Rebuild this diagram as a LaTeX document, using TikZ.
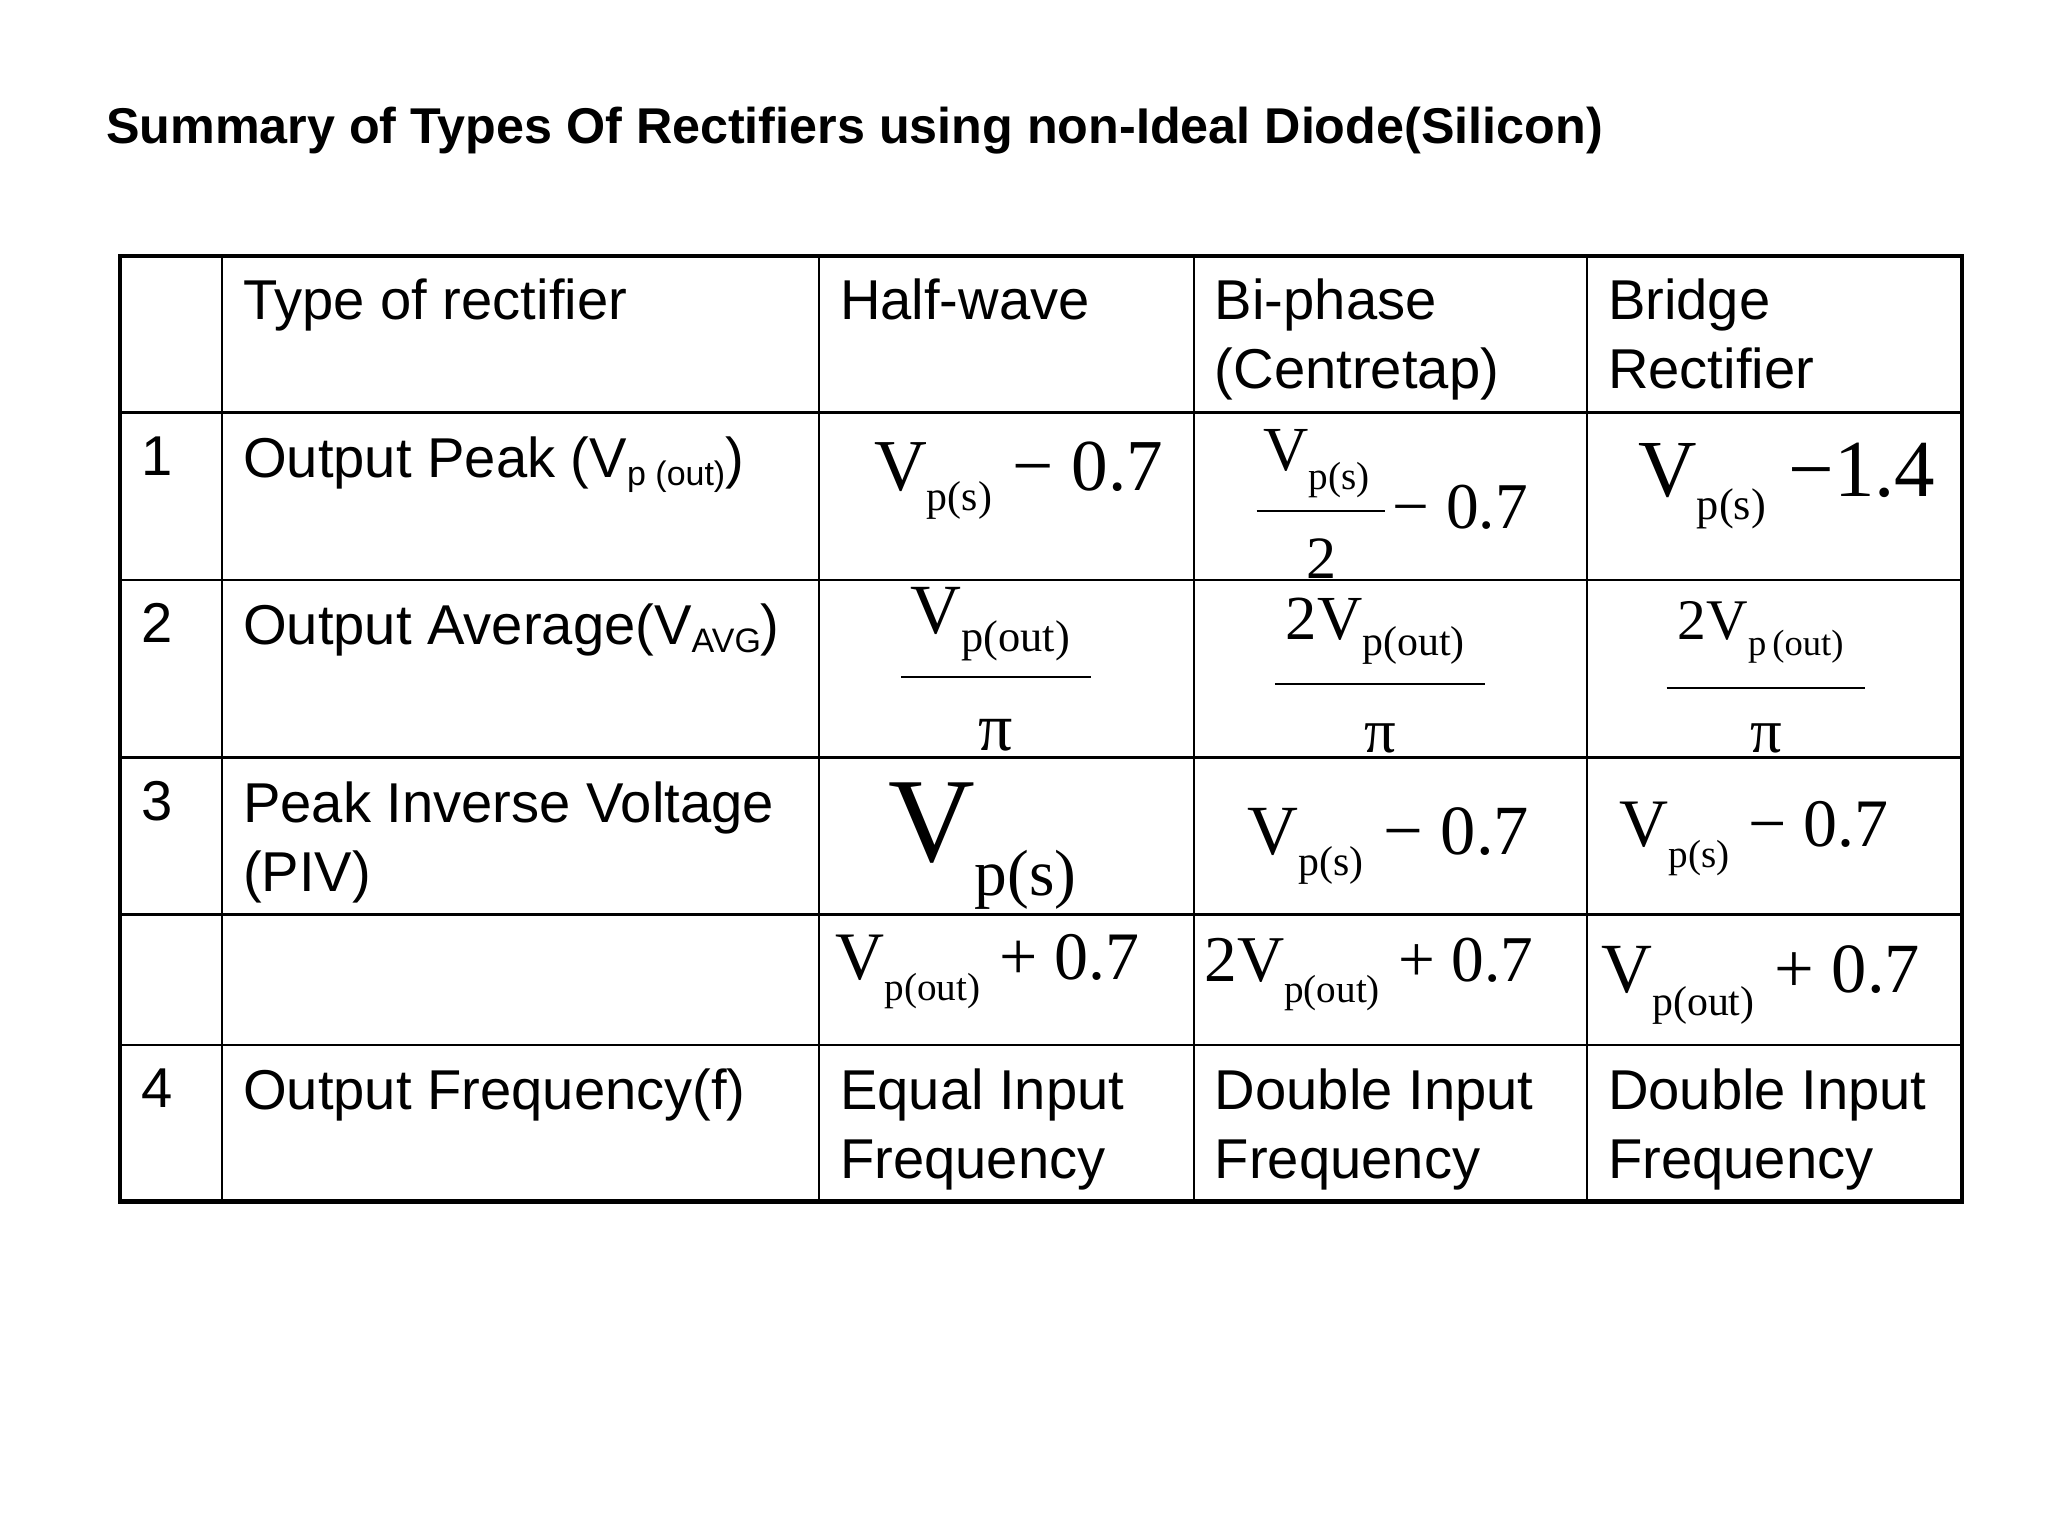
\documentclass[tikz,border=0pt]{standalone}
\usepackage{fontspec}
\setmainfont{Liberation Sans}
\newfontfamily\tm{Liberation Serif}
\newcommand{\vsub}[4]{{\fontsize{#1}{#1}\selectfont\tm V}\raisebox{-#3}{\fontsize{#2}{#2}\selectfont\tm #4}}
\newcommand{\tmt}[2]{{\fontsize{#1}{#1}\selectfont\tm #2}}
\begin{document}
\begin{tikzpicture}[x=1pt,y=-1pt,
  cell/.style={anchor=north west,inner sep=0pt,align=left,font=\fontsize{43}{53}\selectfont},
  num/.style={anchor=north west,inner sep=0pt,font=\fontsize{43}{53}\selectfont},
  frm/.style={inner sep=0pt},
  grid/.style={line width=2pt},
  outer/.style={line width=3.5pt}]
\useasboundingbox (0,0) rectangle (1568,1176);
\node[anchor=west,inner sep=0pt,font=\fontsize{38.5}{44}\selectfont\bfseries] (title) at (81,100) {Summary of Types Of Rectifiers using non-Ideal Diode(Silicon)};
% grid
\foreach \y in {316,444,580,700,800} \draw[grid] (92,\y) -- (1502,\y);
\foreach \x in {170,627,914,1215} \draw[grid] (\x,196) -- (\x,920);
\draw[outer] (92,196) rectangle (1502,920);
% header
\node[cell] (h1) at (186,213) {Type of rectifier};
\node[cell] (h2) at (643,213) {Half-wave};
\node[cell] (h3) at (930,213) {Bi-phase\\(Centretap)};
\node[cell] (h4) at (1231,213) {Bridge\\Rectifier};
% numbers
\node[num] (n1) at (108,334) {1};
\node[num] (n2) at (108,462) {2};
\node[num] (n3) at (108,598) {3};
\node[num] (n4) at (108,818) {4};
\node[cell] (r1) at (186,334) {Output Peak (V\raisebox{-6pt}{\fontsize{26}{26}\selectfont p (out)})};
\node[cell] (r2) at (186,462) {Output Average(V\raisebox{-6pt}{\fontsize{26}{26}\selectfont AVG})};
\node[cell] (r3) at (186,598) {Peak Inverse Voltage\\(PIV)};
\node[cell] (r4) at (186,818) {Output Frequency(f)};
\node[cell] (f1) at (643,818) {Equal Input\\Frequency};
\node[cell] (f2) at (930,818) {Double Input\\Frequency};
\node[cell] (f3) at (1231,818) {Double Input\\Frequency};
% row 1
\node[frm] (a1) at (780,368) {\vsub{56}{32}{16pt}{p(s)}\,\tmt{56}{ − 0.7}};
\node[frm] (b1n) at (1008,355) {\vsub{48}{30}{14pt}{p(s)}};
\draw[line width=1.5pt] (962,391) -- (1060,391);
\node[frm] (b1d) at (1012,428) {\tmt{46}{2}};
\node[frm] (b1m) at (1118,388) {\tmt{50}{− 0.7}};
\node[frm] (c1) at (1368,372) {\vsub{62}{34}{18pt}{p(s)}\,\tmt{62}{ −1.4}};
% row 2
\node[frm] (a2n) at (758,478) {\vsub{54}{34}{14pt}{p(out)}};
\draw[line width=1.5pt] (690,518) -- (835,518);
\node[frm] (a2d) at (762,563) {\tmt{52}{π}};
\node[frm] (b2n) at (1053,483) {\tmt{48}{2}\vsub{48}{32}{12pt}{p(out)}};
\draw[line width=1.5pt] (976,524) -- (1137,524);
\node[frm] (b2d) at (1057,565) {\tmt{48}{π}};
\node[frm] (c2n) at (1348,484) {\tmt{44}{2}\vsub{44}{28}{12pt}{p\,(out)}};
\draw[line width=1.5pt] (1276,527) -- (1428,527);
\node[frm] (c2d) at (1352,565) {\tmt{48}{π}};
% row 3
\node[frm] (a3) at (752,648) {\vsub{92}{50}{26pt}{p(s)}};
\node[frm] (b3) at (1063,648) {\vsub{54}{32}{16pt}{p(s)}\,\tmt{54}{ − 0.7}};
\node[frm] (c3) at (1343,642) {\vsub{52}{30}{16pt}{p(s)}\,\tmt{52}{ − 0.7}};
% row 4
\node[frm] (a4) at (756,744) {\vsub{52}{30}{16pt}{p(out)}\,\tmt{52}{ + 0.7}};
\node[frm] (b4) at (1048,746) {\tmt{50}{2}\vsub{50}{30}{16pt}{p(out)}\,\tmt{50}{ + 0.7}};
\node[frm] (c4) at (1348,754) {\vsub{54}{32}{18pt}{p(out)}\,\tmt{54}{ + 0.7}};
\end{tikzpicture}
\end{document}
